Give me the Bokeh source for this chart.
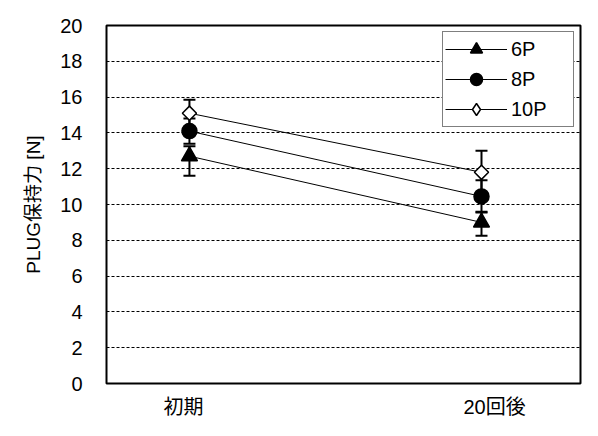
import numpy as np
from bokeh.plotting import figure
from bokeh.models import (ColumnDataSource, Whisker, TeeHead, Legend, LegendItem,
                          FixedTicker, Range1d)
from bokeh.embed import file_html
from bokeh.resources import INLINE

# ---- data ----
categories = ["初期", "20回後"]
cat_index = [1, 2]
series_names = ["6P", "8P", "10P"]
mean_6p = [12.7, 9.0]
low_6p = [11.6, 8.25]
high_6p = [13.25, 9.6]
mean_8p = [14.1, 10.45]
low_8p = [13.4, 9.55]
high_8p = [14.8, 11.35]
mean_10p = [15.1, 11.8]
low_10p = [14.35, 10.6]
high_10p = [15.85, 13.0]
y_ticks = list(range(0, 21, 2))

# label positions (layout)
label_pos = [0.98, 2.045]

FONT = "'Liberation Sans', 'Noto Sans CJK JP', sans-serif"

p = figure(width=582, height=420, output_backend="svg", toolbar_location=None,
           x_range=Range1d(0.716, 2.339), y_range=Range1d(0, 20),
           min_border_left=106, min_border_right=2, min_border_top=25,
           min_border_bottom=32)
p.background_fill_color = "white"
p.border_fill_color = "white"
p.outline_line_color = "black"
p.outline_line_width = 2
p.outline_line_alpha = 1

# grid
p.xgrid.visible = False
p.ygrid.ticker = FixedTicker(ticks=y_ticks)
p.ygrid.grid_line_color = "black"
p.ygrid.grid_line_dash = "3 2"
p.ygrid.grid_line_width = 1

# axes
p.yaxis.ticker = FixedTicker(ticks=y_ticks)
p.yaxis.axis_line_color = None
p.yaxis.major_tick_line_color = None
p.yaxis.minor_tick_line_color = None
p.yaxis.major_label_standoff = 18
p.yaxis.major_label_text_font = FONT
p.yaxis.major_label_text_font_size = "20px"
p.yaxis.major_label_text_color = "black"
p.yaxis.axis_label = "PLUG保持力 [N]"
p.yaxis.axis_label_text_font = FONT
p.yaxis.axis_label_text_font_size = "19px"
p.yaxis.axis_label_text_font_style = "normal"
p.yaxis.axis_label_text_color = "black"
p.yaxis.axis_label_standoff = 13

p.xaxis.ticker = FixedTicker(ticks=label_pos)
p.xaxis.major_label_overrides = {label_pos[i]: categories[i] for i in range(len(categories))}
p.xaxis.axis_line_color = None
p.xaxis.major_tick_line_color = None
p.xaxis.minor_tick_line_color = None
p.xaxis.major_label_standoff = 6
p.xaxis.major_label_text_font = FONT
p.xaxis.major_label_text_font_size = "20px"
p.xaxis.major_label_text_color = "black"

series = [
    ("6P", mean_6p, low_6p, high_6p, "triangle", 16, "black", 0),
    ("8P", mean_8p, low_8p, high_8p, "circle", 15, "black", 0),
    ("10P", mean_10p, low_10p, high_10p, "square", 10, "white", np.pi / 4),
]

items = []
for name, mean, low, high, marker, size, fill, ang in series:
    src = ColumnDataSource(dict(x=cat_index, y=mean, lo=low, hi=high))
    wk = Whisker(base="x", upper="hi", lower="lo", source=src,
                 line_color="black", line_width=2,
                 upper_head=TeeHead(size=12, line_width=2, line_color="black"),
                 lower_head=TeeHead(size=12, line_width=2, line_color="black"))
    p.add_layout(wk)
    lr = p.line("x", "y", source=src, line_color="black", line_width=1)
    sr = p.scatter("x", "y", source=src, marker=marker, size=size,
                   fill_color=fill, line_color="black", line_width=1.5, angle=ang)
    if ang != 0:
        # legend-only (hidden) diamond marker, since legends ignore rotation
        leg_r = p.scatter("x", "y", source=src, marker="diamond", size=size,
                          fill_color=fill, line_color="black", line_width=1.5,
                          visible=False)
        items.append(LegendItem(label=name, renderers=[lr, leg_r]))
    else:
        items.append(LegendItem(label=name, renderers=[lr, sr]))

legend = Legend(items=items, location="top_right")
legend.border_line_color = "black"
legend.border_line_width = 1
legend.background_fill_color = "white"
legend.background_fill_alpha = 1
legend.label_text_font = FONT
legend.label_text_font_size = "20px"
legend.label_text_color = "black"
legend.glyph_width = 62
legend.glyph_height = 30
legend.label_height = 22
legend.spacing = -7
legend.padding = 2
legend.label_standoff = 4
legend.label_width = 60
legend.margin = 6
p.add_layout(legend)

open("out.html", "w").write(file_html(p, INLINE))
